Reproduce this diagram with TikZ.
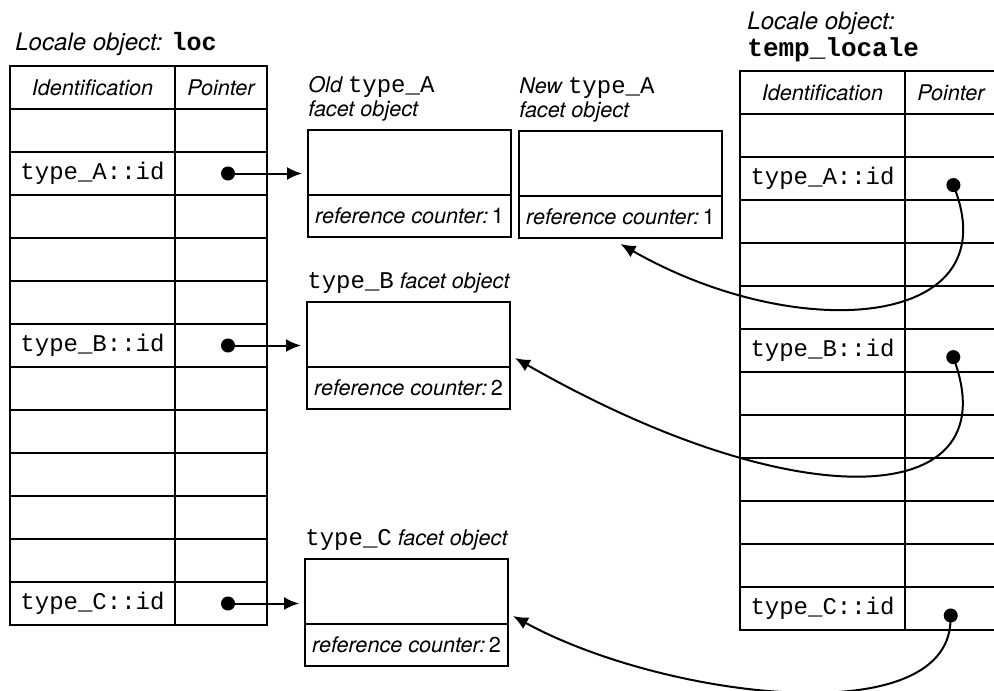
\documentclass[tikz,border=0pt]{standalone}
\usepackage{fontspec}
\setmainfont{TeX Gyre Heros}
\setmonofont{Liberation Mono}
\usepackage{tikz}
\usetikzlibrary{arrows.meta,positioning}
\newcommand{\codetxt}[1]{{\upshape\ttfamily\fontsize{12pt}{12pt}\selectfont #1}}
\tikzset{
  idcell/.style={rectangle,draw,line width=1pt,minimum width=82.5pt,minimum height=21.5pt,inner sep=0pt,outer sep=0pt,anchor=north west},
  ptrcell/.style={rectangle,draw,line width=1pt,minimum width=46pt,minimum height=21.5pt,inner sep=0pt,outer sep=0pt},
  head/.style={inner sep=0pt,font=\fontsize{10.8pt}{12pt}\selectfont\itshape},
  ident/.style={inner sep=0pt,font=\fontsize{12pt}{14pt}\selectfont\ttfamily},
  facettop/.style={rectangle,draw,line width=1pt,minimum width=101.5pt,minimum height=32.5pt,inner sep=0pt,outer sep=0pt,anchor=north west},
  facetcount/.style={rectangle,draw,line width=1pt,minimum width=101.5pt,minimum height=21pt,inner sep=0pt,outer sep=0pt,font=\fontsize{10.8pt}{12pt}\selectfont},
  facetlbl/.style={align=left,inner sep=0pt,anchor=south west,yshift=4pt,font=\fontsize{10.8pt}{12pt}\selectfont\itshape},
  title/.style={inner sep=0pt,anchor=base west,font=\fontsize{12pt}{14pt}\selectfont\itshape},
  ptrarrow/.style={{Circle[length=7pt]}-{Latex[length=7.5pt,width=6.5pt]},line width=1pt}
}

\begin{document}
\begin{tikzpicture}[x=0.5pt,y=-0.5pt]
  \useasboundingbox (0,0) rectangle (994,690);

  % locale object loc
  \node[title] (locTitle) at (15,51) {Locale object: \textbf{\upshape\ttfamily\fontsize{12.5pt}{14pt}\selectfont loc}};
  \foreach \r in {0,...,12}{
    \node[idcell] (loc-id-\r) at (10,{66+43*\r}) {};
    \node[ptrcell,right=0pt of loc-id-\r] (loc-ptr-\r) {};
  }
  \node[head] (locHeadId) at (loc-id-0) {Identification};
  \node[head] (locHeadPtr) at (loc-ptr-0) {Pointer};
  \node[ident] (locA) at (loc-id-2) {type\_A::id};
  \node[ident] (locB) at (loc-id-6) {type\_B::id};
  \node[ident] (locC) at (loc-id-12) {type\_C::id};

  % locale object temp_locale
  \node[title] (tmpTitle) at (747,30) {Locale object:};
  \node[title] (tmpName) at (747,57) {\textbf{\upshape\ttfamily\fontsize{13pt}{14pt}\selectfont temp\_locale}};
  \foreach \r in {0,...,12}{
    \node[idcell] (tmp-id-\r) at (740,{71+43*\r}) {};
    \node[ptrcell,right=0pt of tmp-id-\r] (tmp-ptr-\r) {};
  }
  \node[head] (tmpHeadId) at (tmp-id-0) {Identification};
  \node[head] (tmpHeadPtr) at (tmp-ptr-0) {Pointer};
  \node[ident] (tmpA) at (tmp-id-2) {type\_A::id};
  \node[ident] (tmpB) at (tmp-id-6) {type\_B::id};
  \node[ident] (tmpC) at (tmp-id-12) {type\_C::id};

  % facet objects
  \node[facettop] (oldA) at (308,130) {};
  \node[facetcount,below=0pt of oldA] (oldAcount) {\textit{reference counter:}\,1};
  \node[facetlbl] (oldAlbl) at (oldA.north west) {Old \codetxt{type\_A}\\facet object};

  \node[facettop] (newA) at (519,131) {};
  \node[facetcount,below=0pt of newA] (newAcount) {\textit{reference counter:}\,1};
  \node[facetlbl] (newAlbl) at (newA.north west) {New \codetxt{type\_A}\\facet object};

  \node[facettop] (typeB) at (307,302) {};
  \node[facetcount,below=0pt of typeB] (typeBcount) {\textit{reference counter:}\,2};
  \node[facetlbl] (typeBlbl) at (typeB.north west) {\codetxt{type\_B} facet object};

  \node[facettop] (typeC) at (305,559) {};
  \node[facetcount,below=0pt of typeC] (typeCcount) {\textit{reference counter:}\,2};
  \node[facetlbl] (typeClbl) at (typeC.north west) {\codetxt{type\_C} facet object};

  % pointers
  \draw[ptrarrow,shorten >=3pt] (loc-ptr-2.center) -- (loc-ptr-2 -| oldA.west);
  \draw[ptrarrow,shorten >=3pt] (loc-ptr-6.center) -- (loc-ptr-6 -| typeB.west);
  \draw[ptrarrow,shorten >=3pt] (loc-ptr-12.center) -- (loc-ptr-12 -| typeC.west);
  \draw[ptrarrow] (tmp-ptr-2.center) .. controls +(55,150) and +(177,101) .. ([yshift=-3pt]newAcount.south);
  \draw[ptrarrow] (tmp-ptr-6.center) .. controls +(55,160) and +(280,160) .. ([shift={(2.5pt,4.5pt)}]typeB.south east);
  \draw[ptrarrow] (tmp-ptr-12.center) .. controls +(-5,125) and +(150,82) .. ([shift={(2.5pt,4pt)}]typeC.south east);
\end{tikzpicture}
\end{document}
